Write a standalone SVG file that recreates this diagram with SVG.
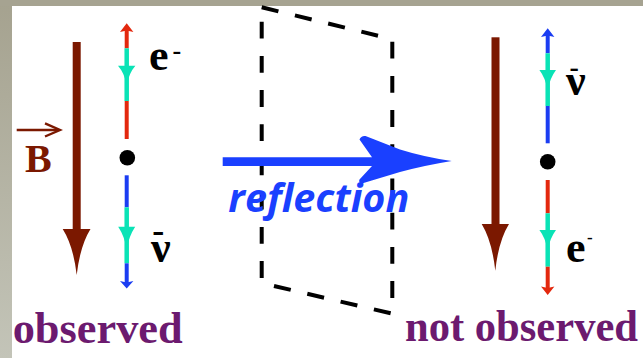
<svg xmlns="http://www.w3.org/2000/svg" width="643" height="358" viewBox="0 0 643 358">
  <defs>
    <linearGradient id="frame" x1="0" y1="0" x2="0" y2="1">
      <stop offset="0" stop-color="#a5a28f"/>
      <stop offset="1" stop-color="#c3c4b8"/>
    </linearGradient>
    <style>
      .serif { font-family: "Liberation Serif", "Times New Roman", serif; font-weight: bold; }
      .lbl { fill: #000; font-size: 44px; }
      .cap { fill: #6c1a6f; font-size: 44px; }
      .mirror { stroke: #000; stroke-width: 4; fill: none; stroke-dasharray: 16.8 17.4; }
      .red { stroke: #e3280e; stroke-width: 4; }
      .cyan { stroke: #0ae3b6; stroke-width: 4.5; }
      .blue { stroke: #1b3df2; stroke-width: 4; }
      .brown { fill: #7b1800; }
    </style>
  </defs>

  <g id="background">
    <rect x="0" y="0" width="643" height="358" fill="url(#frame)"/>
    <rect x="0" y="0" width="643" height="6" fill="#a6a391"/>
    <rect x="12" y="6" width="631" height="352" fill="#ffffff"/>
  </g>

  <g id="mirror">
    <line class="mirror" x1="261.7" y1="21.7" x2="261.7" y2="280"/>
    <line class="mirror" x1="392.3" y1="41.7" x2="392.3" y2="300"/>
    <line class="mirror" x1="261.7" y1="7.3" x2="378" y2="35.7" style="stroke-dasharray:17.2 17"/>
    <line class="mirror" x1="274" y1="286" x2="390.7" y2="313.3" style="stroke-dasharray:17.2 17"/>
  </g>

  <g id="field-left">
    <rect class="brown" x="72.7" y="42" width="8" height="188"/>
    <path class="brown" d="M62.7,229 L90.5,229 Q80,246 76.7,275 Q73.4,246 62.7,229 Z"/>
    <line x1="16.7" y1="130" x2="58" y2="130" stroke="#7b1800" stroke-width="2.6"/>
    <path d="M45,123.3 L60,130 L45,136.5" fill="none" stroke="#7b1800" stroke-width="2.4"/>
    <text class="serif" x="25" y="171.7" font-size="40" fill="#7b1800">B</text>
  </g>

  <g id="decay-left">
    <path d="M126.7,23.3 L133.4,32 L126.7,30.5 L120,32 Z" fill="#e3280e"/>
    <line class="red" x1="126.7" y1="30" x2="126.7" y2="48.3"/>
    <line class="cyan" x1="126.7" y1="48.3" x2="126.7" y2="101"/>
    <path d="M118,65.7 L135.4,65.7 Q129,73 126.7,85 Q124.4,73 118,65.7 Z" fill="#0ae3b6"/>
    <line class="red" x1="126.7" y1="101" x2="126.7" y2="139"/>
    <circle cx="127.3" cy="157.7" r="7.8" fill="#000"/>
    <line class="blue" x1="126.7" y1="175.3" x2="126.7" y2="207.3"/>
    <line class="cyan" x1="126.7" y1="207.3" x2="126.7" y2="263.3"/>
    <path d="M118.2,226.7 L135.2,226.7 Q129,236 126.7,249 Q124.4,236 118.2,226.7 Z" fill="#0ae3b6"/>
    <line class="blue" x1="126.7" y1="263.3" x2="126.7" y2="283"/>
    <path d="M126.7,288.5 L133.4,281 L126.7,282.5 L120,281 Z" fill="#1b3df2"/>
    <text class="serif lbl" x="149" y="69.5">e<tspan x="172.5" y="59" font-size="26">-</tspan></text>
    <text class="serif lbl"><tspan x="152.3" y="241.5" font-size="36">-</tspan><tspan x="151" y="261.7">ν</tspan></text>
  </g>

  <g id="connectors">
    <path id="reflection-arrow" d="M222.7,157.3 L372,157.3 L359.5,139.5 Q361,135.5 365.5,136 L400,149.5 Q424,157 451.7,161 Q424,165.5 400,172 L363.5,183 Q358,183.5 359.5,179.5 L372,166 L222.7,166 Z" fill="#1a40ff"/>
    <text x="228.3" y="211.7" font-family="'Open Sans', 'DejaVu Sans', sans-serif" font-weight="bold" font-style="italic" font-size="40" fill="#1a40ff" textLength="181" lengthAdjust="spacingAndGlyphs">reflection</text>
  </g>

  <g id="field-right">
    <rect class="brown" x="491.5" y="37.3" width="8" height="188"/>
    <path class="brown" d="M481.7,224 L509,224 Q498.5,241 495.3,270.7 Q492,241 481.7,224 Z"/>
  </g>

  <g id="decay-right">
    <path d="M547.7,28.3 L554.4,37 L547.7,35.5 L541,37 Z" fill="#1b3df2"/>
    <line class="blue" x1="547.7" y1="35" x2="547.7" y2="53.3"/>
    <line class="cyan" x1="547.7" y1="53.3" x2="547.7" y2="106"/>
    <path d="M539.4,70 L556,70 Q550,78 547.7,90 Q545.4,78 539.4,70 Z" fill="#0ae3b6"/>
    <line class="blue" x1="547.7" y1="106" x2="547.7" y2="143.3"/>
    <circle cx="547.7" cy="161.7" r="7.8" fill="#000"/>
    <line class="red" x1="547.7" y1="180" x2="547.7" y2="213.3"/>
    <line class="cyan" x1="547.7" y1="213.3" x2="547.7" y2="266.7"/>
    <path d="M539.4,230 L556,230 Q550,238 547.7,250 Q545.4,238 539.4,230 Z" fill="#0ae3b6"/>
    <line class="red" x1="547.7" y1="266.7" x2="547.7" y2="288"/>
    <path d="M547.7,295 L554.4,286.5 L547.7,288 L541,286.5 Z" fill="#e3280e"/>
    <text class="serif lbl"><tspan x="569.5" y="75.5" font-size="28">-</tspan><tspan x="566" y="95">ν</tspan></text>
    <text class="serif lbl" x="566" y="261.7">e<tspan x="587" y="243" font-size="17">-</tspan></text>
  </g>

  <g id="captions">
    <text class="serif cap" x="12.7" y="342.7" textLength="170" lengthAdjust="spacingAndGlyphs">observed</text>
    <text class="serif cap" x="405" y="341" textLength="233" lengthAdjust="spacingAndGlyphs">not observed</text>
  </g>
</svg>
